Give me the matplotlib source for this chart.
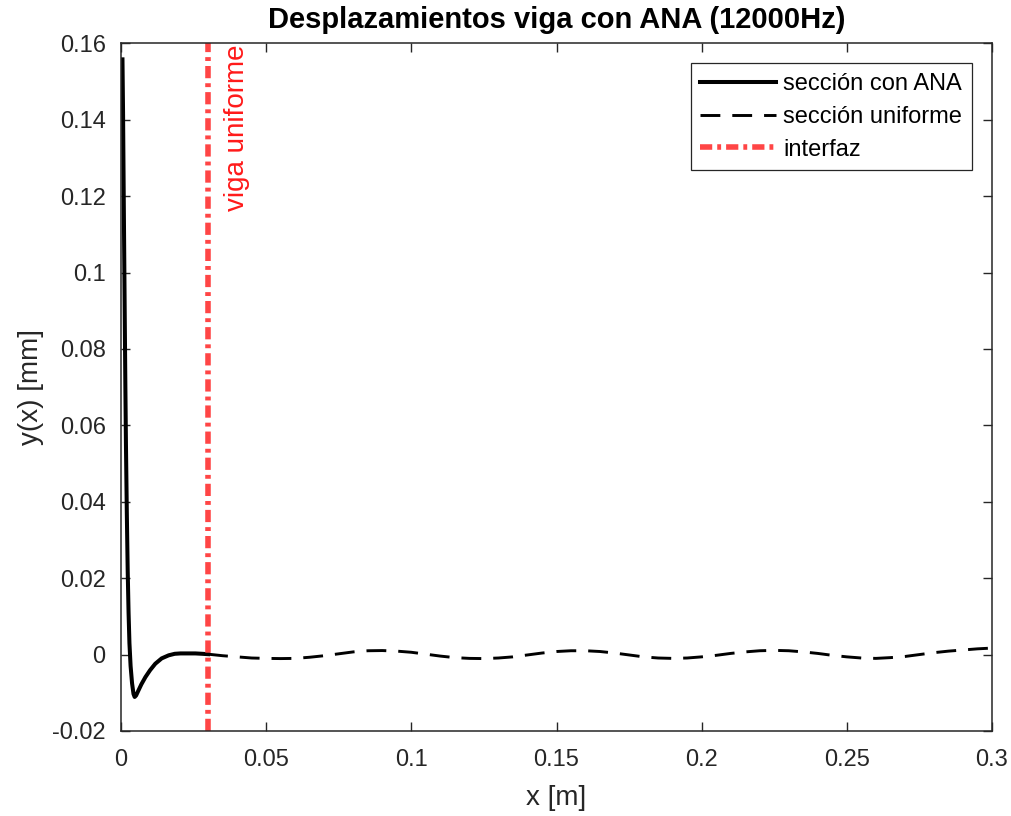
import matplotlib
matplotlib.use("Agg")
import matplotlib.pyplot as plt

plt.rcParams['font.family'] = ['Liberation Sans', 'DejaVu Sans']

# Beam section with ANA (0 .. 0.03 m)
x_ana = [0.0005, 0.0007, 0.0009, 0.0011, 0.0013, 0.0015, 0.0017, 0.0020, 0.0023,
         0.0026, 0.0029, 0.0033, 0.0038, 0.0043, 0.0047, 0.0052, 0.0060, 0.0070,
         0.0084, 0.0100, 0.0118, 0.0140, 0.0164, 0.0185, 0.0205, 0.0230, 0.0256,
         0.0280, 0.0300]
y_ana = [0.1558, 0.1420, 0.1230, 0.1050, 0.0870, 0.0700, 0.0550, 0.0370, 0.0220,
         0.0110, 0.0030, -0.0030, -0.0075, -0.0103, -0.0111, -0.0107, -0.0094,
         -0.0078, -0.0059, -0.0041, -0.0024, -0.0010, -0.0002, 0.0002, 0.0003,
         0.0003, 0.0003, 0.0002, 0.0001]

# Uniform beam section (0.03 .. 0.3 m)
x_uni = [0.030, 0.035, 0.040, 0.045, 0.050, 0.055, 0.060, 0.065, 0.070, 0.075,
         0.080, 0.085, 0.090, 0.095, 0.100, 0.105, 0.110, 0.115, 0.120, 0.125,
         0.130, 0.135, 0.140, 0.145, 0.150, 0.155, 0.160, 0.165, 0.170, 0.175,
         0.180, 0.185, 0.190, 0.195, 0.200, 0.205, 0.210, 0.215, 0.220, 0.225,
         0.230, 0.235, 0.240, 0.245, 0.250, 0.255, 0.260, 0.265, 0.270, 0.275,
         0.280, 0.285, 0.290, 0.295, 0.300]
y_uni = [0.0001, -0.0003, -0.0006, -0.0009, -0.0010, -0.00105, -0.0010, -0.0007,
         -0.0003, 0.0002, 0.0007, 0.0010, 0.00105, 0.0009, 0.0006, 0.0001, -0.0004,
         -0.0008, -0.0010, -0.00105, -0.0009, -0.0006, -0.0001, 0.0004, 0.0008,
         0.0010, 0.0010, 0.0008, 0.0004, -0.0001, -0.0006, -0.0009, -0.0010,
         -0.0009, -0.0006, -0.0002, 0.0003, 0.0007, 0.0010, 0.0011, 0.0010, 0.0007,
         0.0003, -0.0002, -0.0006, -0.0009, -0.0010, -0.0008, -0.0005, 0.0000,
         0.0005, 0.0009, 0.0012, 0.0015, 0.0017]

x_interface = 0.03

x_ticks = [0, 0.05, 0.1, 0.15, 0.2, 0.25, 0.3]
x_ticklabels = ['0', '0.05', '0.1', '0.15', '0.2', '0.25', '0.3']
y_ticks = [-0.02, 0, 0.02, 0.04, 0.06, 0.08, 0.1, 0.12, 0.14, 0.16]
y_ticklabels = ['-0.02', '0', '0.02', '0.04', '0.06', '0.08', '0.1', '0.12', '0.14', '0.16']

axis_col = '#262626'
red = '#FF4545'

fig = plt.figure(figsize=(10.11, 8.16), dpi=100)
ax = fig.add_axes([0.1197, 0.1042, 0.8615, 0.8427])

ax.plot(x_ana, y_ana, color='black', lw=2.9, solid_joinstyle='round',
        label='sección con ANA')
ax.plot(x_uni, y_uni, color='black', lw=2.1, linestyle=(0, (6.8, 4.1)),
        label='sección uniforme')
ax.axvline(x_interface, color=red, lw=4.0, linestyle=(0, (2.2, 0.9, 0.7, 0.9)),
           label='interfaz')

ax.text(x_interface + 0.0098, 0.1597, 'viga uniforme', rotation=90, color='#FF1A1A',
        fontsize=20, ha='center', va='top')

ax.set_xlim(0, 0.3)
ax.set_ylim(-0.02, 0.16)
ax.set_xticks(x_ticks)
ax.set_xticklabels(x_ticklabels)
ax.set_yticks(y_ticks)
ax.set_yticklabels(y_ticklabels)
ax.tick_params(direction='in', length=6.5, width=1.0, colors=axis_col,
               labelsize=17, top=True, right=True)
ax.tick_params(axis='y', pad=11)
ax.tick_params(axis='x', pad=13)
for sp in ax.spines.values():
    sp.set_color(axis_col)
    sp.set_linewidth(1.1)

ax.set_xlabel('x [m]', fontsize=20, color=axis_col, labelpad=10)
ax.set_ylabel('y(x) [mm]', fontsize=20, color=axis_col, labelpad=6)
ax.set_title('Desplazamientos viga con ANA (12000Hz)', fontsize=21,
             fontweight='bold', pad=11)

leg = ax.legend(loc='upper right', fontsize=17, handlelength=3.2, handletextpad=0.3,
                borderpad=0.42, labelspacing=0.45, fancybox=False, framealpha=1,
                borderaxespad=0.85)
leg.get_frame().set_edgecolor(axis_col)
leg.get_frame().set_linewidth(0.9)

fig.savefig('out.png', dpi=100)
